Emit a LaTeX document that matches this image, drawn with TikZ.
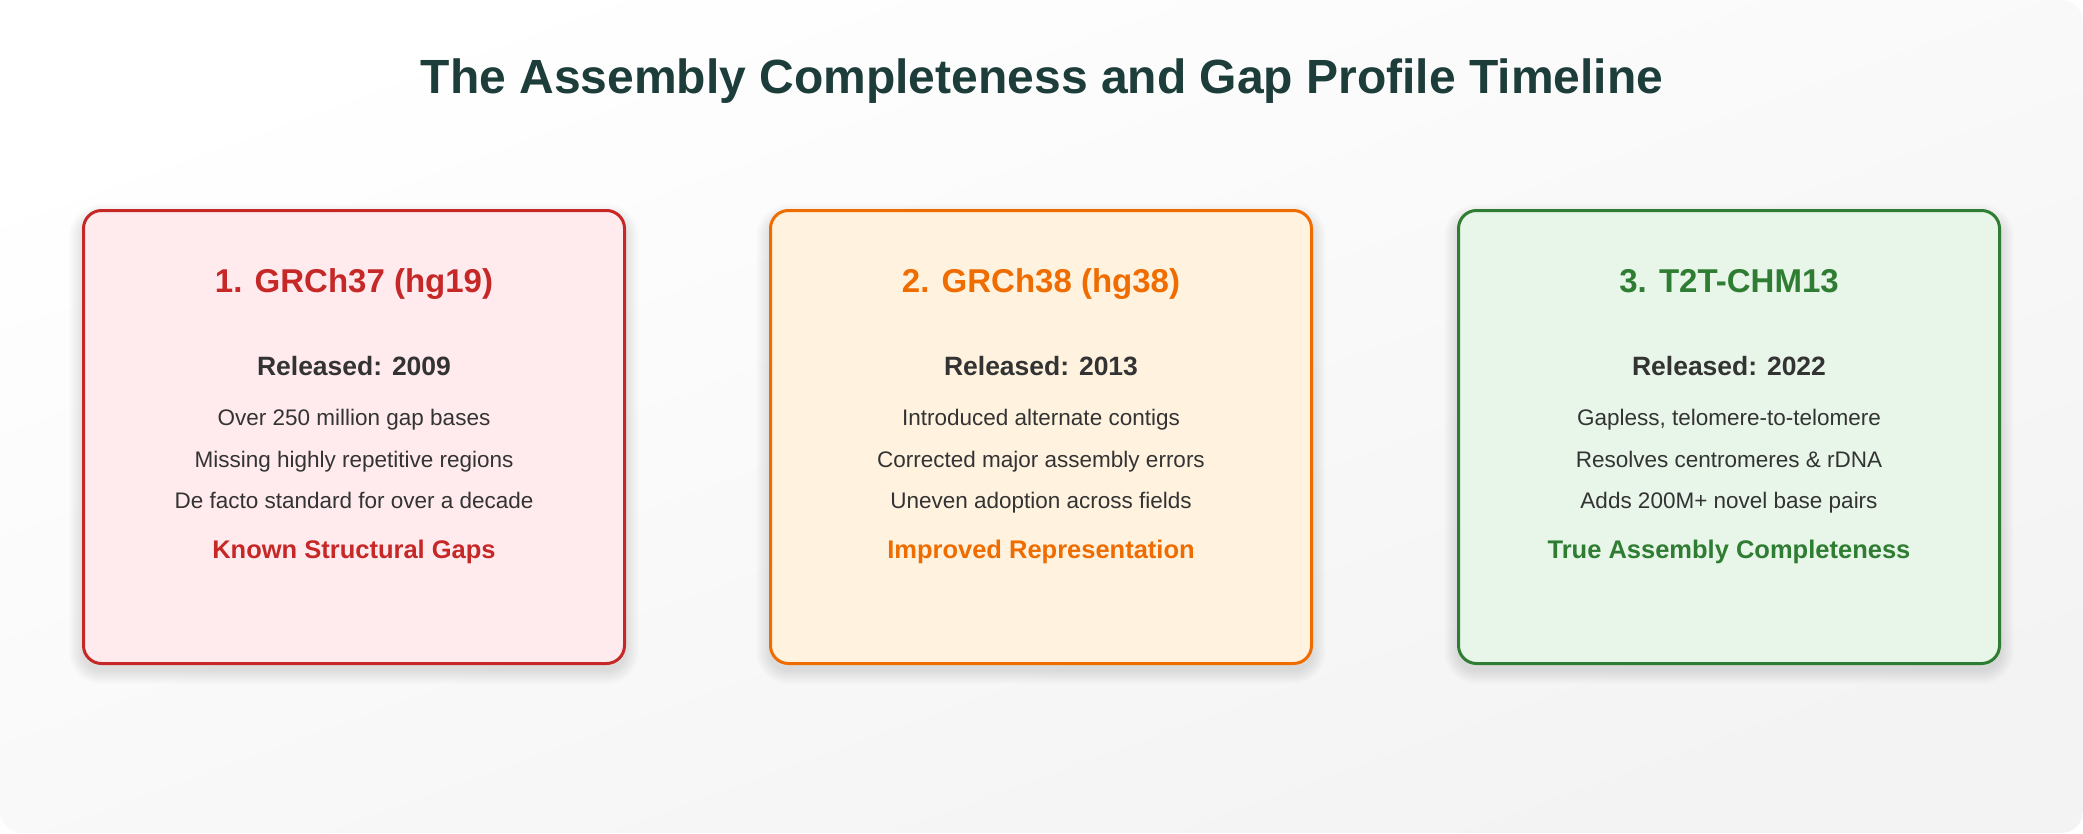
\documentclass[tikz,border=0pt]{standalone}
\usepackage{fontspec}
\setmainfont{Liberation Sans}
\definecolor{titlecol}{HTML}{1D3D3A}
\definecolor{bodycol}{HTML}{333333}
\definecolor{redc}{HTML}{C62828}
\definecolor{redf}{HTML}{FFEBEE}
\definecolor{orac}{HTML}{EF6C00}
\definecolor{oraf}{HTML}{FFF3E0}
\definecolor{grec}{HTML}{2E7D32}
\definecolor{gref}{HTML}{E8F5E9}
\definecolor{bgend}{HTML}{F3F3F3}
\tikzset{
  card/.style={draw=#1, line width=3pt, rounded corners=18pt, rectangle,
    minimum width=541pt, minimum height=453pt, inner sep=0pt},
  cardtitle/.style={anchor=base, inner sep=0pt, text=#1, font=\fontsize{33}{40}\selectfont\bfseries},
  released/.style={anchor=base, inner sep=0pt, text=bodycol, font=\fontsize{26.5}{31}\selectfont\bfseries},
  bodyline/.style={anchor=base, inner sep=0pt, text=bodycol, font=\fontsize{22.5}{27}\selectfont},
  tagline/.style={anchor=base, inner sep=0pt, text=#1, font=\fontsize{25.5}{30}\selectfont\bfseries},
  maintitle/.style={anchor=base, inner sep=0pt, text=titlecol, font=\fontsize{48}{56}\selectfont\bfseries}
}
\newcommand{\softshadow}[2]{%
  \foreach \k in {1,...,14}{%
    \fill[black, opacity=0.009, rounded corners=18pt+\k pt]
      ([xshift=-\k pt, yshift=\k pt-7pt]#1) rectangle ([xshift=\k pt, yshift=-\k pt-7pt]#2);
  }%
}
\begin{document}
\begin{tikzpicture}[x=1pt, y=-1pt]
\useasboundingbox (0,0) rectangle (2083,833);
\fill[white] (0,0) rectangle (2083,833);
\shade[rounded corners=22pt, top color=white, bottom color=bgend, shading angle=20] (0,0) rectangle (2083,833);

\node[maintitle] (title) at (1042,93) {The Assembly Completeness and Gap Profile Timeline};

% shadows
\softshadow{83,211}{625,663}
\softshadow{770,211}{1312,663}
\softshadow{1458,211}{2000,663}

% Card 1
\node[card=redc, fill=redf] (c1) at (354,437) {};
\node[cardtitle=redc] (c1t) at (354,292) {1. GRCh37 (hg19)};
\node[released] (c1r) at (354,375) {Released: 2009};
\node[bodyline] (c1a) at (354,425) {Over 250 million gap bases};
\node[bodyline] (c1b) at (354,467) {Missing highly repetitive regions};
\node[bodyline] (c1c) at (354,508) {De facto standard for over a decade};
\node[tagline=redc] (c1g) at (354,558) {Known Structural Gaps};

% Card 2
\node[card=orac, fill=oraf] (c2) at (1041,437) {};
\node[cardtitle=orac] (c2t) at (1041,292) {2. GRCh38 (hg38)};
\node[released] (c2r) at (1041,375) {Released: 2013};
\node[bodyline] (c2a) at (1041,425) {Introduced alternate contigs};
\node[bodyline] (c2b) at (1041,467) {Corrected major assembly errors};
\node[bodyline] (c2c) at (1041,508) {Uneven adoption across fields};
\node[tagline=orac] (c2g) at (1041,558) {Improved Representation};

% Card 3
\node[card=grec, fill=gref] (c3) at (1729,437) {};
\node[cardtitle=grec] (c3t) at (1729,292) {3. T2T-CHM13};
\node[released] (c3r) at (1729,375) {Released: 2022};
\node[bodyline] (c3a) at (1729,425) {Gapless, telomere-to-telomere};
\node[bodyline] (c3b) at (1729,467) {Resolves centromeres \& rDNA};
\node[bodyline] (c3c) at (1729,508) {Adds 200M+ novel base pairs};
\node[tagline=grec] (c3g) at (1729,558) {True Assembly Completeness};
\end{tikzpicture}
\end{document}
